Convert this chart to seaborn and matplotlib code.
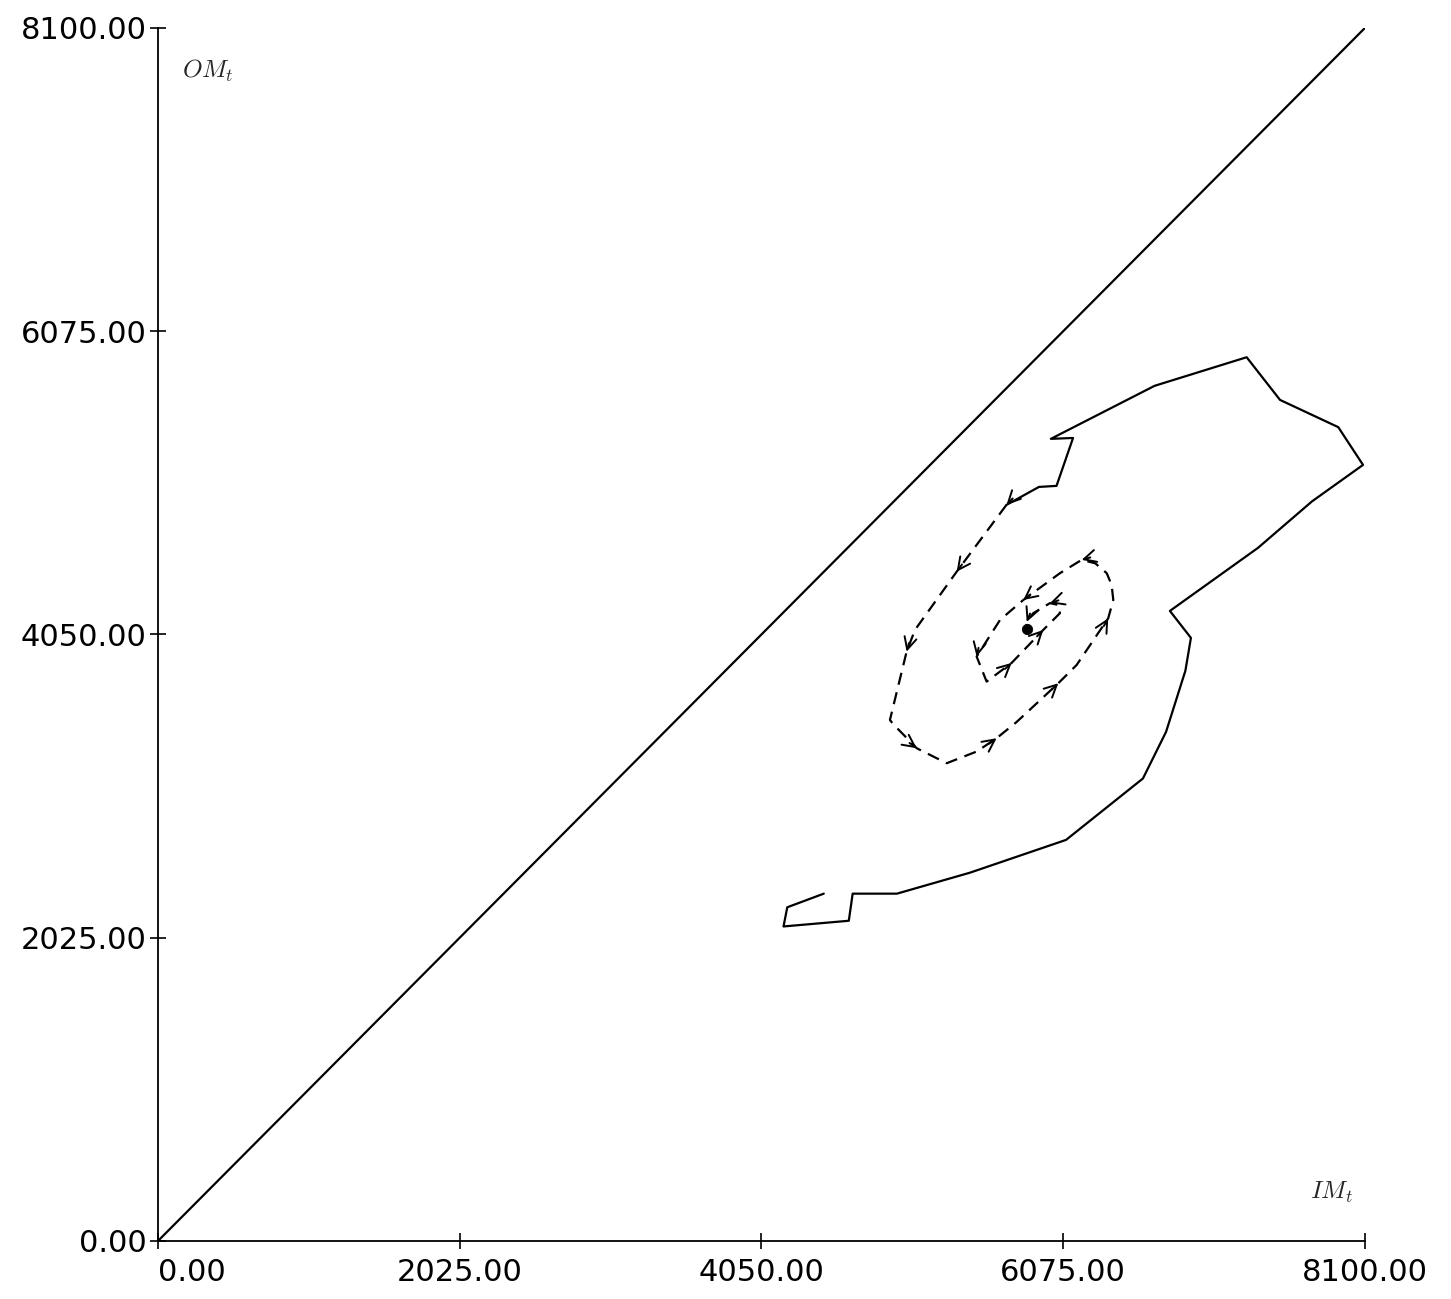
"""
Trajetória IM_t x OM_t: caminho sólido inicial, espiral tracejada até o equilíbrio.
Saída: out.png
"""

import matplotlib
matplotlib.use("Agg")
import matplotlib.pyplot as plt
import numpy as np
import pandas as pd
import seaborn as sns

# ---------------------------------------------------------------------------
# 1. Dados
# ---------------------------------------------------------------------------
IM_SOLIDO = [4468, 4223, 4198, 4636, 4662, 4959, 5449, 6094, 6610, 6765,
             6895, 6932, 6791, 7382, 7744, 8087, 7921, 7530, 7306, 6688,
             5992, 6141, 6030, 5912, 5694]
OM_SOLIDO = [2319, 2228, 2100, 2138, 2319, 2319, 2459, 2678, 3088, 3399,
             3808, 4027, 4207, 4628, 4938, 5182, 5434, 5616, 5901, 5710,
             5356, 5362, 5042, 5035, 4915]

IM_TRACEJADO = [5694, 5360, 5080, 5024, 4912, 4933, 5092, 5293, 5494, 5628,
                5763, 6042, 6165, 6377, 6411, 6400, 6367, 6290, 6199, 6053,
                5807, 5651, 5494, 5561, 5729, 5941, 6053, 6042, 5986, 5874,
                5830, 5830]
OM_TRACEJADO = [4915, 4469, 4080, 3935, 3479, 3452, 3290, 3190, 3268, 3357,
                3466, 3724, 3846, 4158, 4280, 4380, 4459, 4525, 4548, 4459,
                4280, 4147, 3902, 3735, 3860, 4080, 4192, 4247, 4259, 4192,
                4134, 4085]

# pontos da espiral marcados com seta
SETAS = [0, 1, 3, 6, 9, 11, 13, 18, 20, 22, 24, 25, 28, 30]

EQUILIBRIO_IM = [5830]
EQUILIBRIO_OM = [4085]

DIAGONAL = [0, 8100]
TICKS = [0, 2025, 4050, 6075, 8100]
TICK_LABELS = [f"{t:.2f}" for t in TICKS]

df_sol = pd.DataFrame({"im": IM_SOLIDO, "om": OM_SOLIDO})
df_tra = pd.DataFrame({"im": IM_TRACEJADO, "om": OM_TRACEJADO})
df_diag = pd.DataFrame({"im": DIAGONAL, "om": DIAGONAL})

# ---------------------------------------------------------------------------
# 2. Estilo
# ---------------------------------------------------------------------------
sns.set_style("ticks")
plt.rcParams["font.family"] = ["DejaVu Sans"]
plt.rcParams["mathtext.fontset"] = "cm"

fig = plt.figure(figsize=(14.51, 12.99), dpi=100)
ax = fig.add_axes([0.1089, 0.0447, 0.8318, 0.9338])

LW = 1.6
sns.lineplot(data=df_diag, x="im", y="om", sort=False, estimator=None,
             color="black", lw=LW, ax=ax)
sns.lineplot(data=df_sol, x="im", y="om", sort=False, estimator=None,
             color="black", lw=LW, ax=ax)
sns.lineplot(data=df_tra, x="im", y="om", sort=False, estimator=None,
             color="black", lw=LW, ax=ax)
ax.lines[-1].set_dashes([5.5, 3.5])

# setas ao longo da espiral (direção da tangente)
pts = df_tra[["im", "om"]].to_numpy(dtype=float)
for i in SETAS:
    a = pts[i - 1] if i > 0 else np.array([IM_SOLIDO[-2], OM_SOLIDO[-2]], float)
    b = pts[i + 1] if i + 1 < len(pts) else pts[i]
    d = b - a
    d = d / np.hypot(*d)
    ax.annotate("", xy=pts[i], xytext=pts[i] - 60 * d,
                arrowprops=dict(arrowstyle="->", lw=1.4, color="black",
                                mutation_scale=22, shrinkA=0, shrinkB=0))

sns.scatterplot(x=EQUILIBRIO_IM, y=EQUILIBRIO_OM, color="black", s=55,
                edgecolor="black", ax=ax, zorder=5)

# ---------------------------------------------------------------------------
# 3. Eixos
# ---------------------------------------------------------------------------
ax.set_xlim(0, 8100)
ax.set_ylim(0, 8100)
ax.set_xticks(TICKS)
ax.set_xticklabels(TICK_LABELS)
ax.set_yticks(TICKS)
ax.set_yticklabels(TICK_LABELS)
ax.tick_params(direction="inout", length=12, width=1.2, labelsize=22,
               color="black", labelcolor="black")
ax.tick_params(axis="x", pad=6)
ax.tick_params(axis="y", pad=2)
ax.get_xticklabels()[0].set_ha("left")
ax.set_xlabel("")
ax.set_ylabel("")
sns.despine(ax=ax)
for s in ("left", "bottom"):
    ax.spines[s].set_linewidth(1.3)
    ax.spines[s].set_color("black")

ax.text(0.02, 0.965, r"$OM_t$", transform=ax.transAxes, fontsize=18,
        ha="left", va="center")
ax.text(0.972, 0.04, r"$IM_t$", transform=ax.transAxes, fontsize=18,
        ha="center", va="center")

fig.savefig("out.png", dpi=100)
plt.close(fig)
